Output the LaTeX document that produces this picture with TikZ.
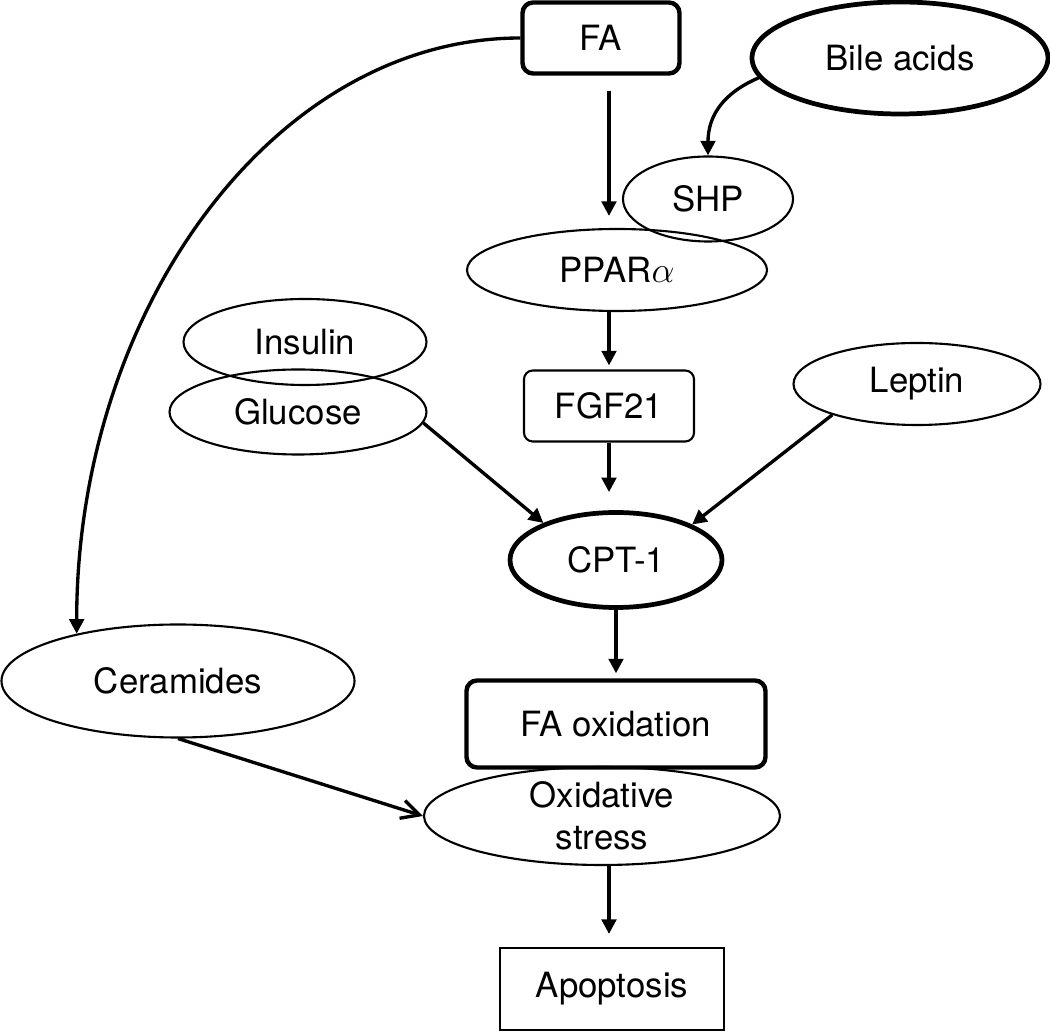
\documentclass[tikz,border=0pt]{standalone}
\usepackage{fontspec}
\setmainfont{TeX Gyre Heros}
\usetikzlibrary{shapes.geometric,arrows.meta,positioning}

\begin{document}
\begin{tikzpicture}[
            x=0.2mm, y=-0.2mm,
            every node/.style={font=\fontsize{19.8}{23.8}\selectfont,inner sep=0pt},
            oval/.style={ellipse,draw,line width=1.2pt},
            boldoval/.style={ellipse,draw,line width=2.7pt},
            roundbox/.style={rectangle,draw,rounded corners=5pt,line width=1.2pt},
            boldbox/.style={rectangle,draw,rounded corners=6pt,line width=2.5pt},
            plainbox/.style={rectangle,draw,line width=1.2pt},
            arr/.style={-{Triangle[length=2.9mm,width=2.9mm]},line width=1.9pt},
            barb/.style={-{Straight Barb[length=3.6mm,width=3.7mm]},line width=1.9pt}
        ]
            \useasboundingbox (0,0) rectangle (1050,1031);

            \node (FA)      [boldbox,minimum width=31.4mm,minimum height=14.2mm]  at (601,38)  {FA};
            \node (Bile)    [boldoval,minimum width=59.2mm,minimum height=22.4mm] at (900,58)  {Bile acids};
            \node (SHP)     [oval,minimum width=34mm,minimum height=17mm]         at (708,199) {SHP};
            \node (PPAR)    [oval,minimum width=60mm,minimum height=16.4mm]       at (617,270) {PPAR$\alpha$};
            \node (Insulin) [oval,minimum width=48.6mm,minimum height=17.2mm]     at (305,342) {Insulin};
            \node (Glucose) [oval,minimum width=51.4mm,minimum height=17mm]       at (298,412) {Glucose};
            \node (FGF)     [roundbox,minimum width=34mm,minimum height=14.2mm]   at (609,406) {FGF21};
            \node (Leptin)  [oval,minimum width=49.4mm,minimum height=16.4mm]     at (917,384) {Leptin};
            \node (CPT)     [boldoval,minimum width=42.4mm,minimum height=19mm]   at (616,560) {CPT-1};
            \node (Cer)     [oval,minimum width=70.6mm,minimum height=22.6mm]     at (178,681) {Ceramides};
            \node (FAox)    [boldbox,minimum width=59.8mm,minimum height=17.4mm]  at (616,724) {FA oxidation};
            \node (OxS)     [oval,minimum width=71.2mm,minimum height=19.6mm,align=center] at (602,816) {Oxidative\\stress};
            \node (Apop)    [plainbox,minimum width=44.8mm,minimum height=16.4mm] at (612,989) {Apoptosis};

            \draw [arr,shorten <=3mm,shorten >=2.4mm] (FA.south -| FGF) -- (PPAR.north -| FGF);
            \draw [arr] (Bile.188) .. controls +(-35,15) and +(0,-40) .. (SHP.north);
            \draw [arr,shorten >=0.8mm] (PPAR.south -| FGF) -- (FGF.north);
            \draw [arr,shorten >=3.6mm] (FGF.south) -- (CPT.north -| FGF);
            \draw [arr] (Glucose.355) -- (CPT.153);
            \draw [arr] (Leptin.200) -- (CPT.25);
            \draw [arr,shorten >=1mm] (CPT.south) -- (FAox.north);
            \draw [arr] (FA.west) .. controls +(-246,0) and +(0,-324) .. (Cer.155);
            \draw [barb] (Cer.south) -- (OxS.west);
            \draw [arr,shorten >=2.6mm] (OxS.south -| FGF) -- (Apop.north -| FGF);
        \end{tikzpicture}
\end{document}
